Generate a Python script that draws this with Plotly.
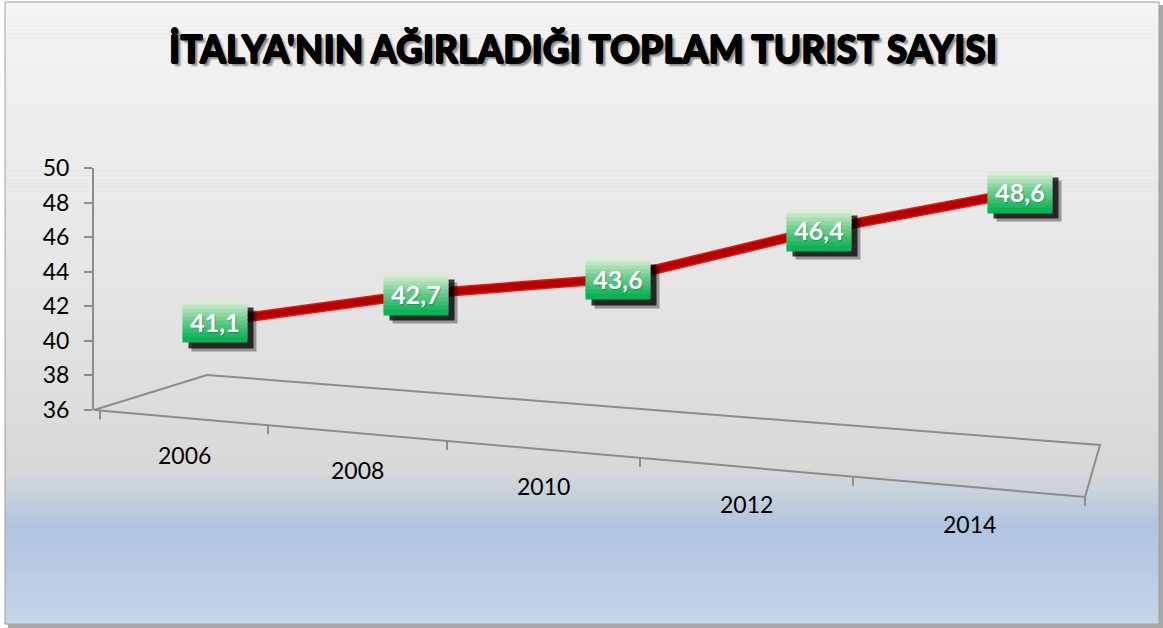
import plotly.graph_objects as go

# ---- data ----
years = [2006, 2008, 2010, 2012, 2014]
values = [41.1, 42.7, 43.6, 46.4, 48.6]
value_labels = ["41,1", "42,7", "43,6", "46,4", "48,6"]
year_labels = ["2006", "2008", "2010", "2012", "2014"]
y_ticks = [36, 38, 40, 42, 44, 46, 48, 50]
title_text = "İTALYA'NIN AĞIRLADIĞI TOPLAM TURIST SAYISI"

FW, FH = 1163, 628
L, R, T, B = 94, 1090, 168, 410
PW, PH = R - L, B - T


def px(x, y):
    return (x - L) / PW, (B - y) / PH


def hex2rgb(h):
    h = h.lstrip("#")
    return tuple(int(h[i:i + 2], 16) for i in (0, 2, 4))


def lerp(c1, c2, t):
    return tuple(round(a + (b - a) * t) for a, b in zip(c1, c2))


shapes = []
# outer shadow
x0, y0 = px(8, 5)
x1, y1 = px(1163, 628)
shapes.append(dict(type="rect", xref="paper", yref="paper", x0=x0, y0=y1, x1=x1, y1=y0,
                   fillcolor="#a8a8a8", line=dict(width=0), layer="below"))

# background gradient bands inside frame
stops = [(2, "#f4f4f4"), (300, "#e4e4e4"), (468, "#d8d8d8"), (500, "#c3cfdd"),
         (525, "#b0c4e0"), (565, "#b9cae4"), (624, "#c6d5ea")]
for (ya, ca), (yb, cb) in zip(stops[:-1], stops[1:]):
    n = max(1, int((yb - ya) / 4))
    for k in range(n):
        ys = ya + (yb - ya) * k / n
        ye = ya + (yb - ya) * (k + 1) / n
        col = lerp(hex2rgb(ca), hex2rgb(cb), (k + 0.5) / n)
        bx0, by0 = px(5, ys)
        bx1, by1 = px(1159, ye + 0.6)
        shapes.append(dict(type="rect", xref="paper", yref="paper", x0=bx0, y0=by1, x1=bx1, y1=by0,
                           fillcolor="rgb(%d,%d,%d)" % col, line=dict(width=0), layer="below"))

# frame
fx0, fy0 = px(5, 2)
fx1, fy1 = px(1159, 624)
shapes.append(dict(type="rect", xref="paper", yref="paper", x0=fx0, y0=fy1, x1=fx1, y1=fy0,
                   line=dict(color="#9c9c9c", width=1), fillcolor="rgba(0,0,0,0)", layer="below"))


# 3D-looking floor (decoration)
def path(points, close=True):
    s = ""
    for i, (a, b) in enumerate(points):
        xx, yy = px(a, b)
        s += ("M" if i == 0 else "L") + " %.5f %.5f " % (xx, yy)
    return s + ("Z" if close else "")


floor = [(94, 410), (207, 375), (1100, 445), (1085, 497)]


def front_y(xv):
    return 410 + (xv - 94) * (497 - 410) / (1085 - 94)


shapes.append(dict(type="path", xref="paper", yref="paper", path=path(floor),
                   line=dict(color="#8c8c8c", width=2), fillcolor="rgba(0,0,0,0)", layer="below"))
floor_ticks = [100, 268, 447, 640, 853, 1085]
for tx in floor_ticks:
    ty = front_y(tx)
    shapes.append(dict(type="path", xref="paper", yref="paper",
                       path=path([(tx, ty), (tx, ty + 9)], close=False),
                       line=dict(color="#8c8c8c", width=2), layer="below"))

fig = go.Figure()
fig.add_trace(go.Scatter(x=years, y=values, mode="lines",
                         line=dict(color="#ee1111", width=10), hoverinfo="skip", showlegend=False))
fig.add_trace(go.Scatter(x=years, y=values, mode="lines",
                         line=dict(color="#b30000", width=7), hoverinfo="skip", showlegend=False))

annotations = []
# title
tx, ty = px(583, 48)
annotations.append(dict(xref="paper", yref="paper", x=tx, y=ty, text=title_text, showarrow=False,
                        xanchor="center", yanchor="middle",
                        font=dict(family="Lato", size=37, color="#000000", weight=900,
                                  shadow="0.7px 0 0 #000, -0.7px 0 0 #000, 0 0.7px 0 #000, 0 -0.7px 0 #000, 3px 3px 2px #8a8a8a")))

# year labels centred between the floor's front-edge ticks
for i, lab in enumerate(year_labels):
    cx = (floor_ticks[i] + floor_ticks[i + 1]) / 2
    lx, ly = px(cx, front_y(cx) + 37)
    annotations.append(dict(xref="paper", yref="paper", x=lx, y=ly, text=lab, showarrow=False,
                            xanchor="center", yanchor="middle",
                            font=dict(family="Lato", size=23, color="#000000")))

# data label boxes
BW, BH = 64, 40
top_c = hex2rgb("#e4f1da")
mid_c = hex2rgb("#74cf92")
bot_c = hex2rgb("#00b050")
nb = 10
for yr, v, lab in zip(years, values, value_labels):
    # shadow
    annotations.append(dict(xref="x", yref="y", x=yr, y=v, text=" ", showarrow=False,
                            width=BW, height=BH, borderpad=0, bgcolor="rgba(0,0,0,0.35)",
                            xshift=9, yshift=-9, font=dict(size=1)))
    annotations.append(dict(xref="x", yref="y", x=yr, y=v, text=" ", showarrow=False,
                            width=BW, height=BH, borderpad=0, bgcolor="rgba(0,0,0,0.75)",
                            xshift=6, yshift=-6, font=dict(size=1)))
    # gradient bands
    hb = BH / nb
    for k in range(nb):
        t = (k + 0.5) / nb
        if t < 0.45:
            col = lerp(top_c, mid_c, t / 0.45)
        else:
            col = lerp(mid_c, bot_c, (t - 0.45) / 0.55)
        annotations.append(dict(xref="x", yref="y", x=yr, y=v, text=" ", showarrow=False,
                                width=BW, height=hb + 0.8, borderpad=0,
                                bgcolor="rgb(%d,%d,%d)" % col,
                                yshift=BH / 2 - hb * (k + 0.5), font=dict(size=1)))
    annotations.append(dict(xref="x", yref="y", x=yr, y=v, text="<b>%s</b>" % lab, showarrow=False,
                            width=BW, height=BH, borderpad=0,
                            font=dict(family="Lato", size=25, color="#ffffff",
                                      shadow="1px 1px 1px rgba(0,0,0,0.25)")))

k_px = 805 / 8
r0 = 2006 - (215 - L) / k_px
r1 = r0 + PW / k_px

fig.update_layout(
    width=FW, height=FH,
    margin=dict(l=L, r=FW - R, t=T, b=FH - B, autoexpand=False),
    paper_bgcolor="#ffffff", plot_bgcolor="rgba(0,0,0,0)",
    shapes=shapes, annotations=annotations,
    xaxis=dict(range=[r0, r1], visible=False, fixedrange=True),
    yaxis=dict(range=[36, 50], tickvals=y_ticks, showgrid=False, zeroline=False,
               showline=True, linecolor="#8c8c8c", linewidth=2,
               ticks="outside", ticklen=8, tickwidth=2, tickcolor="#8c8c8c",
               ticklabelstandoff=10,
               tickfont=dict(family="Lato", size=23, color="#000000"), fixedrange=True),
    showlegend=False,
)

fig.write_html("out.html", config={"displayModeBar": False},
               post_script="document.body.style.margin='0';document.body.style.overflow='hidden';")
